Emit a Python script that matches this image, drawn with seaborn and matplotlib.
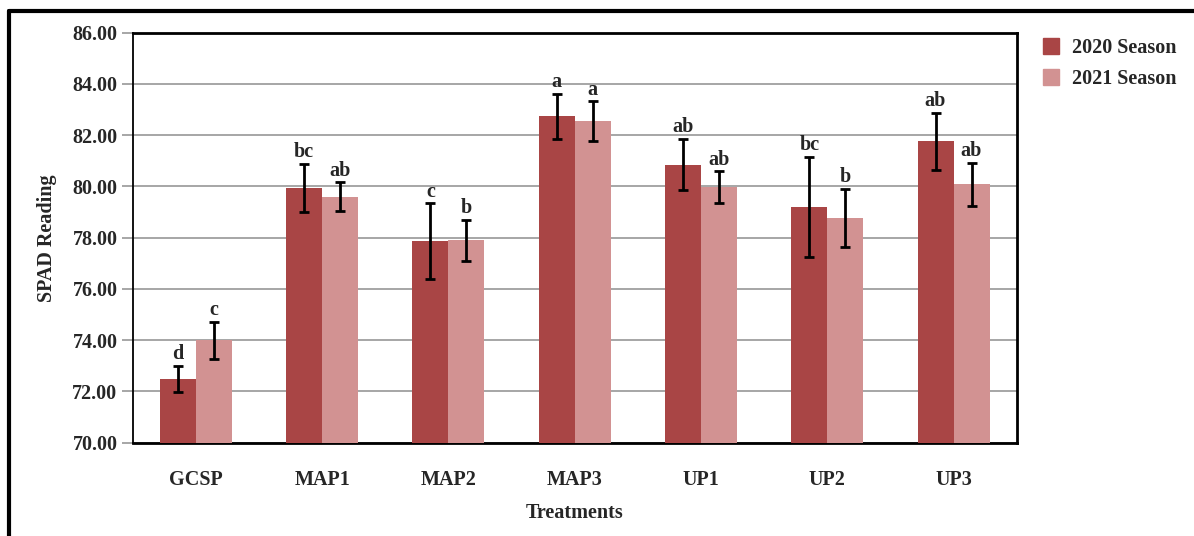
import matplotlib
matplotlib.use("Agg")
import matplotlib.pyplot as plt
import seaborn as sns
import pandas as pd
import numpy as np
from matplotlib.lines import Line2D

treatments = ["GCSP", "MAP1", "MAP2", "MAP3", "UP1", "UP2", "UP3"]
seasons = ["2020 Season", "2021 Season"]
mean_2020 = [72.49, 79.95, 77.86, 82.73, 80.85, 79.20, 81.76]
mean_2021 = [73.99, 79.60, 77.90, 82.55, 79.97, 78.77, 80.08]
err_2020 = [0.50, 0.94, 1.48, 0.87, 1.00, 1.95, 1.12]
err_2021 = [0.72, 0.56, 0.80, 0.77, 0.62, 1.12, 0.85]
letters_2020 = ["d", "bc", "c", "a", "ab", "bc", "ab"]
letters_2021 = ["c", "ab", "b", "a", "ab", "b", "ab"]
yticks = [70, 72, 74, 76, 78, 80, 82, 84, 86]

colors = ["#A94545", "#D29292"]

sns.set_theme(style="white")
plt.rcParams["font.family"] = ["Liberation Serif", "DejaVu Serif"]
plt.rcParams["font.weight"] = "bold"

df = pd.DataFrame({
    "Treatment": treatments * 2,
    "Season": [seasons[0]] * 7 + [seasons[1]] * 7,
    "SPAD": mean_2020 + mean_2021,
})

fig = plt.figure(figsize=(11.94, 5.36), dpi=100)
ax = fig.add_axes([0.1111, 0.1741, 0.7404, 0.7649])

sns.barplot(data=df, x="Treatment", y="SPAD", hue="Season", order=treatments,
            hue_order=seasons, palette=colors, width=0.57, errorbar=None,
            saturation=1, ax=ax, zorder=3, legend=False,
            linewidth=0, edgecolor="none")

# error bars and letters
patches = [p for p in ax.patches if p.get_height() > 0]
patches = sorted(patches, key=lambda p: p.get_x())
means = []
errs = []
letters = []
for i in range(7):
    means += [mean_2020[i], mean_2021[i]]
    errs += [err_2020[i], err_2021[i]]
    letters += [letters_2020[i], letters_2021[i]]
for p, m, e, l in zip(patches, means, errs, letters):
    cx = p.get_x() + p.get_width() / 2
    ax.errorbar(cx, m, yerr=e, fmt="none", ecolor="black", elinewidth=2,
                capsize=3.5, capthick=2, zorder=4)
    ax.text(cx, m + e + 0.07, l, ha="center", va="bottom", fontsize=14.5,
            fontweight="bold", zorder=5)

ax.set_xlim(-0.5, len(treatments) - 0.5)
ax.set_ylim(70, 86)
ax.set_yticks(yticks)
ax.set_yticklabels([f"{v:.2f}" for v in yticks])
ax.grid(axis="y", color="#A6A6A6", linewidth=1.4, zorder=0)
ax.set_axisbelow(True)
for s in ax.spines.values():
    s.set_visible(True)
    s.set_color("black")
    s.set_linewidth(2)
ax.spines["left"].set_linewidth(1.3)
ax.tick_params(axis="y", which="major", length=8, width=1.4, color="#A6A6A6",
               labelsize=14.5, pad=3, left=True)
ax.tick_params(axis="x", length=0, labelsize=14.5, pad=20)
for lab in ax.get_xticklabels() + ax.get_yticklabels():
    lab.set_fontweight("bold")

ax.set_xlabel("Treatments", fontsize=14.5, fontweight="bold", labelpad=9)
ax.set_ylabel("SPAD Reading", fontsize=14.5, fontweight="bold", labelpad=11)

handles = [Line2D([], [], marker="s", linestyle="none", markersize=12,
                  markerfacecolor=c, markeredgecolor=c) for c in colors]
fig.legend(handles, seasons, loc="upper left", bbox_to_anchor=(0.848, 0.962),
           frameon=False, handletextpad=0.05, labelspacing=0.5,
           prop={"weight": "bold", "size": 14.5})

# outer frame (left and top visible)
fig.add_artist(Line2D([0.0075, 0.0075], [0.0, 0.979], transform=fig.transFigure,
                      color="black", linewidth=3))
fig.add_artist(Line2D([0.0075, 1.0], [0.979, 0.979], transform=fig.transFigure,
                      color="black", linewidth=3))

fig.savefig("out.png", dpi=100)
